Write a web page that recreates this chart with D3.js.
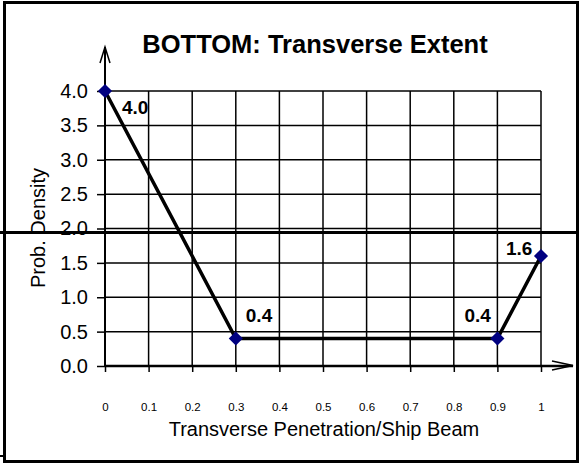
<!DOCTYPE html>
<meta charset="utf-8">
<style>
body { margin: 0; background: white; }
svg text { font-family: "Liberation Sans", Arial, sans-serif; }
</style>
<script src="https://d3js.org/d3.v7.min.js"></script>
<svg id="chart"></svg>
<script>
// chart data
var xValues = [0, 0.3, 0.9, 1.0];
var yValues = [4.0, 0.4, 0.4, 1.6];
var pointLabels = ["4.0", "0.4", "0.4", "1.6"];
var xTicks = [0, 0.1, 0.2, 0.3, 0.4, 0.5, 0.6, 0.7, 0.8, 0.9, 1];
var yTicks = [0, 0.5, 1.0, 1.5, 2.0, 2.5, 3.0, 3.5, 4.0];
// label offsets (dx, dy) from each point
var labelDx = [17, 10, -33, -35];
var labelDy = [16, -23, -23, -8];

var svg_width = 579, svg_height = 464;
var svg = d3.select("#chart").attr("width", svg_width).attr("height", svg_height);

var x = d3.scaleLinear().domain([0, 1]).range([105, 541]);
var y = d3.scaleLinear().domain([0, 4]).range([366, 91]);

// grid
var grid = svg.append("g").attr("stroke", "#000").attr("stroke-width", 1.5);
grid.selectAll(".vx").data(xTicks.slice(1)).enter().append("line")
  .attr("x1", d => x(d)).attr("x2", d => x(d))
  .attr("y1", y(0)).attr("y2", y(4));
grid.selectAll(".hy").data(yTicks.slice(1)).enter().append("line")
  .attr("x1", x(0)).attr("x2", x(1))
  .attr("y1", d => y(d)).attr("y2", d => y(d));

// y axis
var yAxis = svg.append("g").attr("transform", "translate(" + x(0) + ",0)")
  .call(d3.axisLeft(y).tickValues(yTicks).tickFormat(d3.format(".1f")).tickSize(8).tickPadding(9));
yAxis.select(".domain").remove();
yAxis.selectAll("line").attr("stroke", "#000").attr("stroke-width", 1.5);
yAxis.selectAll("text").attr("font-size", 20).attr("fill", "#000")
  .style("font-family", "Liberation Sans, Arial, sans-serif");

// x axis
var xAxis = svg.append("g").attr("transform", "translate(0," + y(0) + ")")
  .call(d3.axisBottom(x).tickValues(xTicks).tickFormat(d => d3.format("")(d)).tickSize(6).tickPadding(31));
xAxis.select(".domain").remove();
xAxis.selectAll("line").attr("stroke", "#000").attr("stroke-width", 1.5);
xAxis.selectAll("text").attr("font-size", 11.5).attr("fill", "#000")
  .style("font-family", "Liberation Sans, Arial, sans-serif");

// axis lines with open arrows
svg.append("line").attr("x1", x(0)).attr("x2", x(0)).attr("y1", y(0)).attr("y2", 47)
  .attr("stroke", "#000").attr("stroke-width", 2);
svg.append("path").attr("d", "M100,63 L105,47 L110,63")
  .attr("fill", "none").attr("stroke", "#000").attr("stroke-width", 1.5);
svg.append("line").attr("x1", x(0)).attr("x2", 573).attr("y1", y(0)).attr("y2", y(0))
  .attr("stroke", "#000").attr("stroke-width", 2.5);
svg.append("path").attr("d", "M552,361 L573,365.5 L552,370")
  .attr("fill", "none").attr("stroke", "#000").attr("stroke-width", 1.5);

// data line
var line = d3.line().x((d, i) => x(xValues[i])).y((d, i) => y(yValues[i]));
svg.append("path").datum(yValues).attr("d", line)
  .attr("fill", "none").attr("stroke", "#000").attr("stroke-width", 3.5);

// markers (rotated squares)
svg.selectAll(".pt").data(yValues).enter().append("path")
  .attr("d", d3.symbol().type(d3.symbolSquare).size(100))
  .attr("transform", (d, i) => "translate(" + x(xValues[i]) + "," + y(d) + ") rotate(45)")
  .attr("fill", "#000080");

// point labels
svg.selectAll(".lbl").data(pointLabels).enter().append("text")
  .attr("x", (d, i) => x(xValues[i]) + labelDx[i])
  .attr("y", (d, i) => y(yValues[i]) + labelDy[i])
  .attr("dy", "0.35em")
  .attr("font-size", 19).attr("font-weight", "bold")
  .text(d => d);

// titles
svg.append("text").attr("x", 315).attr("y", 53).attr("text-anchor", "middle")
  .attr("font-size", 25.5).attr("font-weight", "bold").text("BOTTOM: Transverse Extent");
svg.append("text").attr("x", 324).attr("y", 436).attr("text-anchor", "middle")
  .attr("font-size", 20).text("Transverse Penetration/Ship Beam");
svg.append("text").attr("transform", "translate(45,228) rotate(-90)").attr("text-anchor", "middle")
  .attr("font-size", 20).text("Prob. Density");

// outer frame (scanned page)
svg.append("rect").attr("x", 4.5).attr("y", 2.5).attr("width", 573).attr("height", 459)
  .attr("fill", "none").attr("stroke", "#000").attr("stroke-width", 3);
svg.append("line").attr("x1", 0).attr("x2", 579).attr("y1", 232.5).attr("y2", 232.5)
  .attr("stroke", "#000").attr("stroke-width", 3);
svg.append("line").attr("x1", 0).attr("x2", 4).attr("y1", 456).attr("y2", 456)
  .attr("stroke", "#000").attr("stroke-width", 2);
</script>
